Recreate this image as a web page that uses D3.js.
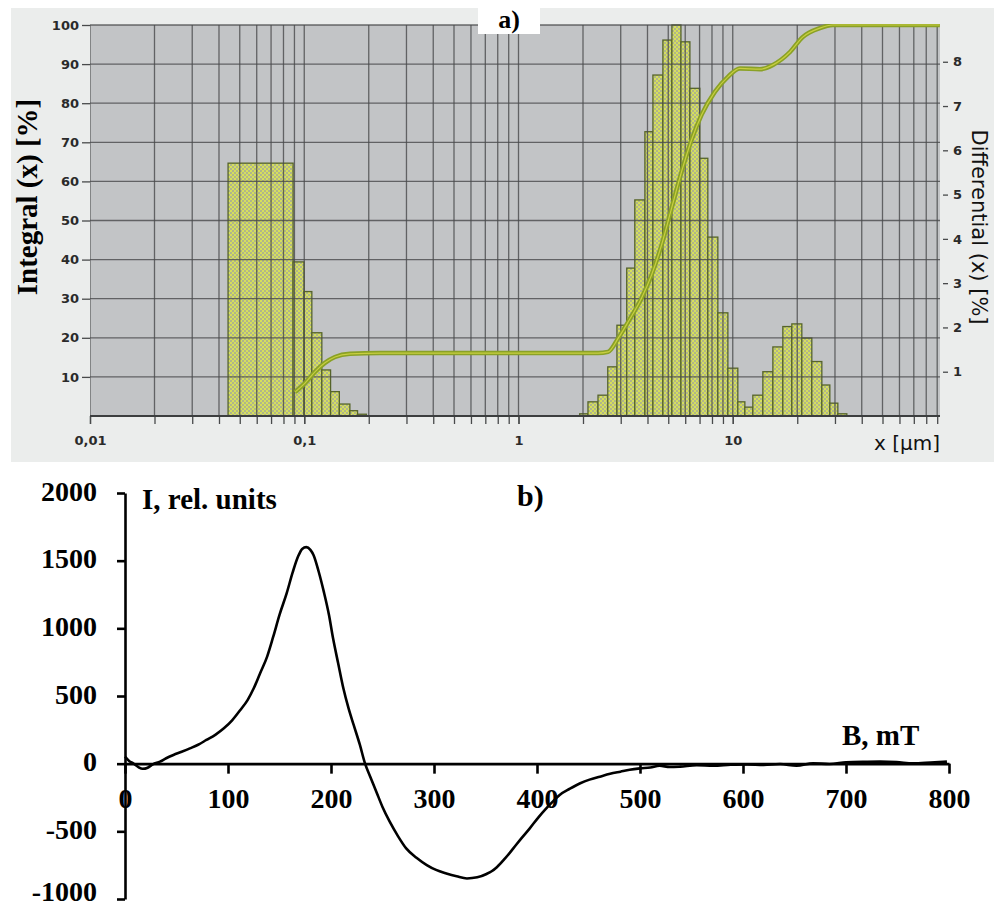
<!DOCTYPE html>
<html>
<head>
<meta charset="utf-8">
<script src="https://cdn.jsdelivr.net/npm/d3@7"></script>
<style>
body { margin: 0; background: #fff; }
</style>
</head>
<body>
<div id="chart"></div>
<script>
// ---- a) particle size distribution ----
// fine fraction: bin edges [µm] and differential [%]
var fineEdges = [0.0441, 0.0887, 0.0998, 0.1085, 0.1208, 0.1327, 0.1458, 0.1633, 0.1773, 0.195];
var fineDiff = [5.71, 3.48, 2.81, 1.88, 1.04, 0.55, 0.27, 0.12, 0.04];
// coarse fraction
var coarseEdges = [1.93, 2.11, 2.35, 2.61, 2.88, 3.20, 3.49, 3.89, 4.24, 4.72, 5.20, 5.73, 6.31, 7.02, 7.65,
    8.52, 9.49, 10.56, 11.39, 12.41, 13.82, 15.39, 17.13, 18.87, 21.01, 23.39, 26.05, 28.39, 30.94, 34.08];
var coarseDiff = [0.05, 0.32, 0.47, 1.11, 2.05, 3.34, 4.88, 6.42, 7.70, 8.49, 8.83, 8.45, 7.40, 5.82, 4.04,
    2.33, 1.08, 0.32, 0.20, 0.47, 1.00, 1.56, 2.02, 2.08, 1.76, 1.23, 0.70, 0.29, 0.05];
// integral curve
var integralX = [0.0905, 0.1008, 0.1122, 0.1249, 0.1391, 0.1635, 0.2255, 2.35, 2.62, 2.92, 3.25, 3.75, 4.18,
    4.65, 5.18, 5.77, 6.42, 7.15, 8.25, 9.52, 10.8, 13.4, 15.4, 18.5, 21.2, 25.5, 29.3, 92.6];
var integralY = [6.1, 8.4, 11.3, 13.6, 15.1, 15.9, 16.1, 16.1, 16.4, 19.9, 24.1, 30.1, 36.1,
    43.7, 53.1, 62.5, 70.6, 77.0, 82.9, 86.8, 88.9, 88.7, 89.8, 93.1, 96.9, 99.2, 100, 100];
var integralTicks = [10, 20, 30, 40, 50, 60, 70, 80, 90, 100];
var diffTicks = [1, 2, 3, 4, 5, 6, 7, 8];
var sizeTicks = [0.01, 0.1, 1, 10];
var sizeTickLabels = ["0,01", "0,1", "1", "10"];

// ---- b) intensity vs field ----
var fieldB = [0, 4, 8, 13, 17, 22, 27, 34, 40, 47, 55, 63, 71, 79, 88, 96, 104, 112, 119, 125, 131, 138, 144, 150,
    157, 163, 168, 172, 176, 180, 183, 188, 193, 198, 202, 207, 212, 217, 222, 228, 233, 238, 244, 250, 257, 265,
    273, 283, 293, 302, 312, 322, 332, 342, 351, 356, 361, 369, 377, 385, 393, 401, 409, 416, 422, 432, 442, 451,
    461, 471, 481, 490, 500, 510, 519, 529, 539, 555, 571, 588, 604, 620, 636, 652, 668, 684, 700, 717, 733, 749,
    765, 782, 798];
var intensity = [52, 20, 2, -25, -38, -30, -5, 15, 40, 64, 88, 113, 140, 175, 215, 261, 320, 397, 470, 557, 665, 791,
    940, 1099, 1260, 1419, 1530, 1587, 1600, 1580, 1542, 1420, 1271, 1100, 926, 740, 557, 410, 286, 140, 2, -95, -207,
    -320, -429, -535, -626, -695, -749, -785, -811, -832, -848, -840, -815, -795, -765, -700, -626, -550, -478, -400,
    -330, -275, -231, -185, -145, -118, -96, -75, -59, -45, -35, -28, -15, -25, -22, -12, -15, -8, -5, -10, -3,
    -15, 2, -2, 10, 14, 15, 12, 2, 8, 15];
var fieldTicks = [0, 100, 200, 300, 400, 500, 600, 700, 800];
var intensityTicks = [-1000, -500, 0, 500, 1000, 1500, 2000];

function makeBins(edges, vals) {
    return vals.map(function(v, i) { return {lo: edges[i], hi: edges[i + 1], v: v}; });
}

var svg = d3.select("#chart")
    .append("svg")
    .attr("width", 994)
    .attr("height", 909);

var defs = svg.append("defs");
var pat = defs.append("pattern")
    .attr("id", "hatch")
    .attr("width", 4).attr("height", 4)
    .attr("patternUnits", "userSpaceOnUse");
pat.append("rect").attr("width", 4).attr("height", 4).attr("fill", "#b0b68a");
pat.append("rect").attr("width", 2).attr("height", 2).attr("fill", "#d6df5c");
pat.append("rect").attr("x", 2).attr("y", 2).attr("width", 2).attr("height", 2).attr("fill", "#d6df5c");
defs.append("clipPath").attr("id", "plotclip")
    .append("rect").attr("x", 90).attr("y", 24).attr("width", 850).attr("height", 393);

// ======== panel a ========
svg.append("rect")
    .attr("x", 11).attr("y", 8).attr("width", 983).attr("height", 454)
    .attr("fill", "#ebedec");

var x = d3.scaleLog().domain([0.01, 100]).range([90, 947]);
var yInt = d3.scaleLinear().domain([0, 100]).range([416, 25]);
var yDiff = d3.scaleLinear().domain([0, 8.83]).range([416, 25]);

svg.append("rect")
    .attr("x", 90).attr("y", 25).attr("width", 850).attr("height", 391)
    .attr("fill", "#c2c4c6");

var plot = svg.append("g").attr("clip-path", "url(#plotclip)");

// bars
var bins = makeBins(fineEdges, fineDiff).concat(makeBins(coarseEdges, coarseDiff));
plot.append("g")
    .selectAll("rect")
    .data(bins)
    .enter().append("rect")
        .attr("x", function(d) { return x(d.lo); })
        .attr("y", function(d) { return yDiff(d.v); })
        .attr("width", function(d) { return x(d.hi) - x(d.lo); })
        .attr("height", function(d) { return yDiff(0) - yDiff(d.v); })
        .attr("fill", "url(#hatch)")
        .attr("stroke", "#56642a")
        .attr("stroke-width", 1.3);

// grid
var gridX = x.ticks().filter(function(d) { return d < 95; });
plot.append("g")
    .selectAll("line")
    .data(gridX)
    .enter().append("line")
        .attr("x1", function(d) { return x(d); })
        .attr("x2", function(d) { return x(d); })
        .attr("y1", 25).attr("y2", 416)
        .attr("stroke", "#484a4b")
        .attr("stroke-opacity", 0.8)
        .attr("stroke-width", 1.3);
plot.append("g")
    .selectAll("line")
    .data(integralTicks)
    .enter().append("line")
        .attr("x1", 90).attr("x2", 940)
        .attr("y1", function(d) { return yInt(d); })
        .attr("y2", function(d) { return yInt(d); })
        .attr("stroke", "#484a4b")
        .attr("stroke-opacity", 0.8)
        .attr("stroke-width", 1.3);

// integral curve
var integralPts = integralX.map(function(d, i) { return [d, integralY[i]]; });
var intLine = d3.line()
    .x(function(d) { return x(d[0]); })
    .y(function(d) { return yInt(d[1]); })
    .curve(d3.curveMonotoneX);
plot.append("path").datum(integralPts)
    .attr("d", intLine).attr("fill", "none")
    .attr("stroke", "#8aa126").attr("stroke-width", 4.5);
plot.append("path").datum(integralPts)
    .attr("d", intLine).attr("fill", "none")
    .attr("stroke", "#c9cf40").attr("stroke-width", 1.2);

// axes a
var smallFont = "'DejaVu Sans', Verdana, sans-serif";
var leftAx = svg.append("g")
    .attr("transform", "translate(90,0)")
    .call(d3.axisLeft(yInt).tickValues(integralTicks).tickSize(8).tickPadding(3));
var minorAx = svg.append("g")
    .attr("transform", "translate(0,416)")
    .call(d3.axisBottom(x).tickValues(gridX).tickSize(8).tickFormat(""));
var labelAx = svg.append("g")
    .attr("transform", "translate(0,416)")
    .call(d3.axisBottom(x).tickValues(sizeTicks).tickSize(8).tickPadding(12)
        .tickFormat(function(d, i) { return sizeTickLabels[i]; }));
var rightAx = svg.append("g")
    .attr("transform", "translate(943,0)")
    .call(d3.axisRight(yDiff).tickValues(diffTicks).tickSize(5).tickPadding(5));
[leftAx, minorAx, labelAx, rightAx].forEach(function(g) {
    g.select(".domain").remove();
    g.selectAll("line").attr("stroke", "#484a4b").attr("stroke-width", 1.3);
    g.selectAll("text")
        .style("font-family", smallFont)
        .style("font-size", "13px")
        .style("font-weight", "bold")
        .attr("fill", "#2a2a2a");
});
svg.append("line")
    .attr("x1", 90).attr("x2", 940).attr("y1", 416).attr("y2", 416)
    .attr("stroke", "#3c3e3f").attr("stroke-width", 2);

svg.append("text")
    .attr("transform", "translate(37,197) rotate(-90)")
    .attr("text-anchor", "middle")
    .style("font-family", "'Liberation Serif', 'Times New Roman', serif")
    .style("font-size", "29px").style("font-weight", "bold")
    .text("Integral (x) [%]");
svg.append("text")
    .attr("transform", "translate(972,227) rotate(90)")
    .attr("text-anchor", "middle")
    .style("font-family", smallFont)
    .style("font-size", "21px")
    .attr("fill", "#111")
    .text("Differential (x) [%]");
svg.append("text")
    .attr("x", 940).attr("y", 450)
    .attr("text-anchor", "end")
    .style("font-family", smallFont)
    .style("font-size", "20px")
    .attr("fill", "#111")
    .text("x [µm]");
svg.append("rect")
    .attr("x", 478).attr("y", 3).attr("width", 62).attr("height", 31)
    .attr("fill", "#fff");
svg.append("text")
    .attr("x", 509).attr("y", 28)
    .attr("text-anchor", "middle")
    .style("font-family", "'Liberation Serif', 'Times New Roman', serif")
    .style("font-size", "26px").style("font-weight", "bold")
    .text("a)");

// ======== panel b ========
var serif = "'Liberation Serif', 'Times New Roman', serif";
var xB = d3.scaleLinear().domain([0, 800]).range([125, 949]);
var yI = d3.scaleLinear().domain([-1000, 2000]).range([899, 493]);
var plain = function(d) { return String(d); };

var xAxB = svg.append("g")
    .attr("transform", "translate(0," + yI(0) + ")")
    .call(d3.axisBottom(xB).tickValues(fieldTicks).tickFormat(plain)
        .tickSize(10).tickSizeOuter(0).tickPadding(14));
var yAxB = svg.append("g")
    .attr("transform", "translate(125,0)")
    .call(d3.axisLeft(yI).tickValues(intensityTicks).tickFormat(plain)
        .tickSize(8).tickSizeOuter(0).tickPadding(20));
[xAxB, yAxB].forEach(function(g) {
    g.select(".domain").attr("stroke", "#000").attr("stroke-width", 2.6);
    g.selectAll("line").attr("stroke", "#000").attr("stroke-width", 2.6);
    g.selectAll("text")
        .style("font-family", serif)
        .style("font-size", "28px")
        .style("font-weight", "bold")
        .attr("fill", "#000");
});
yAxB.selectAll("text").attr("dy", function(d) { return d === -1000 ? "0.05em" : "0.25em"; });

var curvePts = fieldB.map(function(d, i) { return [d, intensity[i]]; });
svg.append("path").datum(curvePts)
    .attr("fill", "none")
    .attr("stroke", "#000")
    .attr("stroke-width", 2.6)
    .attr("stroke-linejoin", "round")
    .attr("d", d3.line()
        .x(function(d) { return xB(d[0]); })
        .y(function(d) { return yI(d[1]); })
        .curve(d3.curveMonotoneX));

svg.append("text")
    .attr("x", 142).attr("y", 509)
    .style("font-family", serif).style("font-size", "29px").style("font-weight", "bold")
    .text("I, rel. units");
svg.append("text")
    .attr("x", 517).attr("y", 506)
    .style("font-family", serif).style("font-size", "30px").style("font-weight", "bold")
    .text("b)");
svg.append("text")
    .attr("x", 842).attr("y", 745)
    .style("font-family", serif).style("font-size", "29px").style("font-weight", "bold")
    .text("B, mT");
</script>
</body>
</html>
